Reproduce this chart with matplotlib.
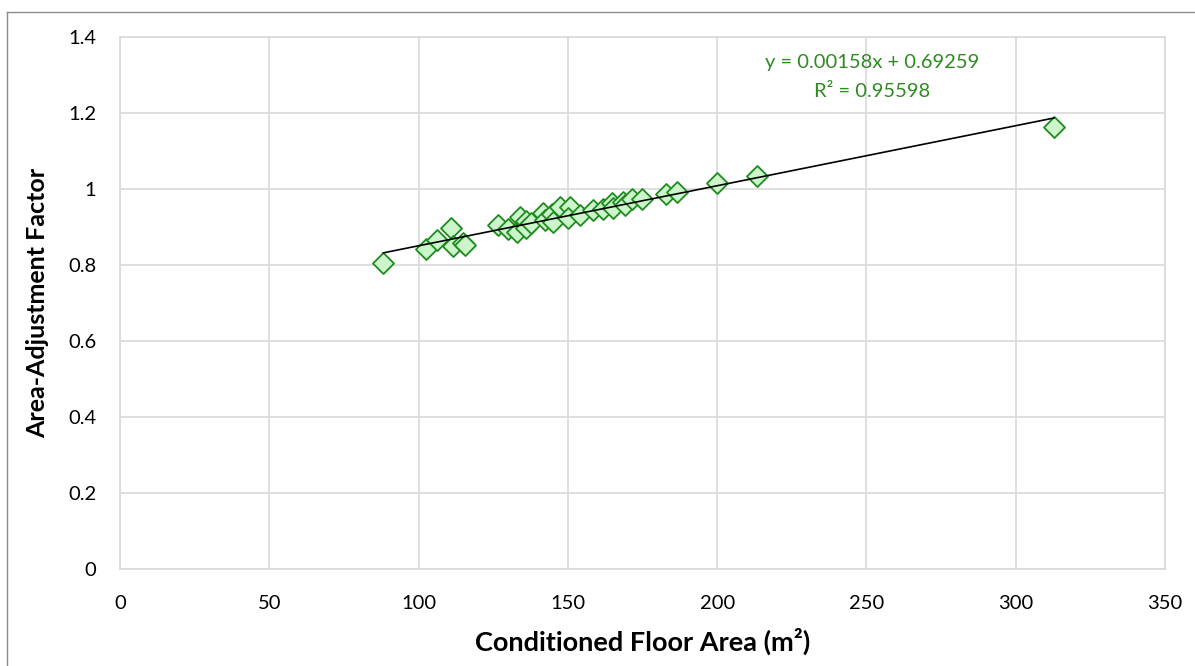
import numpy as np
import matplotlib.pyplot as plt
from matplotlib.lines import Line2D

plt.rcParams['font.family'] = ['Lato', 'DejaVu Sans']

# conditioned floor area (m2) and the matching area-adjustment factor
floor_area = [88.2, 102.4, 106.1, 110.8, 111.6, 114.8, 115.6, 126.7, 130.0, 132.8,
              134.0, 135.9, 135.9, 137.5, 141.8, 142.3, 144.6, 145.1, 147.4, 150.7,
              150.1, 154.0, 158.5, 161.8, 164.7, 165.2, 168.6, 169.1, 171.4, 174.7,
              182.9, 186.4, 199.8, 213.2, 312.8]
adj_factor = [0.804, 0.841, 0.866, 0.898, 0.850, 0.857, 0.852, 0.905, 0.895, 0.888,
              0.926, 0.916, 0.897, 0.910, 0.937, 0.918, 0.934, 0.914, 0.952, 0.952,
              0.923, 0.931, 0.944, 0.947, 0.962, 0.950, 0.966, 0.957, 0.975, 0.975,
              0.986, 0.992, 1.016, 1.035, 1.163]

slope = 0.00158
intercept = 0.69259
r_squared = 0.95598

fig = plt.figure(figsize=(11.95, 6.66), dpi=100)
ax = fig.add_axes([120 / 1195, 97 / 666, 1045 / 1195, 532 / 666])

ax.scatter(floor_area, adj_factor, marker='D', s=115, facecolor='#ccf5cc',
           edgecolor='#1e8c1e', linewidth=1.3, zorder=3)

# linear trendline across the data range
xs = np.array([min(floor_area), max(floor_area)])
ax.plot(xs, slope * xs + intercept, color='black', linewidth=1.2, zorder=4)

ax.text(0.72, 0.968, f'y = {slope:.5f}x + {intercept:.5f}\nR² = {r_squared:.5f}',
        transform=ax.transAxes, ha='center', va='top', color='#2e8b22',
        fontsize=14.5, linespacing=1.85)

ax.set_xlim(0, 350)
ax.set_ylim(0, 1.4)
ax.set_xticks(np.arange(0, 351, 50))
ax.set_yticks(np.arange(0, 1.41, 0.2))
ax.set_yticklabels(['0', '0.2', '0.4', '0.6', '0.8', '1', '1.2', '1.4'])
ax.grid(True, color='#d9d9d9', linewidth=1.2)
ax.set_axisbelow(True)
for sp in ax.spines.values():
    sp.set_color('#d9d9d9')
    sp.set_linewidth(1.2)
ax.tick_params(length=0, labelsize=14.5, colors='black')
ax.tick_params(axis='x', pad=19)
ax.tick_params(axis='y', pad=17)

ax.set_xlabel('Conditioned Floor Area (m²)', fontsize=19.5, fontweight='bold', labelpad=11)
ax.set_ylabel('Area-Adjustment Factor', fontsize=18, fontweight='bold', labelpad=14)

# chart frame
fig.add_artist(Line2D([7 / 1195, 7 / 1195], [0, 1 - 12 / 666], transform=fig.transFigure,
                      color='#8c8c8c', linewidth=1))
fig.add_artist(Line2D([7 / 1195, 1], [1 - 12 / 666, 1 - 12 / 666], transform=fig.transFigure,
                      color='#8c8c8c', linewidth=1))

fig.savefig('out.png', dpi=100)
